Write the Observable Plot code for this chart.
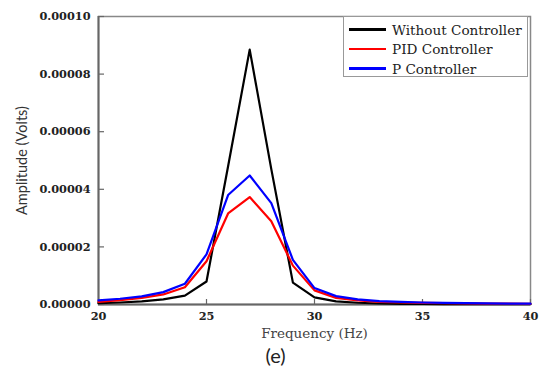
<!DOCTYPE html>
<html>
<head>
<meta charset="utf-8">
<script src="https://cdn.jsdelivr.net/npm/d3@7"></script>
<script src="https://cdn.jsdelivr.net/npm/@observablehq/plot@0.6"></script>
<style>
  html, body { margin: 0; padding: 0; background: #fff; }
  #wrap { position: relative; width: 543px; height: 372px; }
  #legend { position: absolute; left: 343px; top: 16px; width: 185px; height: 61px;
    border: 1px solid #999; background: #fff; box-sizing: border-box;
    font-family: "DejaVu Serif", serif; font-size: 13.6px; color: #222; }
  .row { position: absolute; left: 0; height: 18px; display: flex; align-items: center; white-space: nowrap; }
  .sw { width: 37px; height: 2.5px; margin-left: 5px; margin-right: 6px; }
</style>
</head>
<body>
<div id="wrap"></div>
<script>
const freq = [20,21,22,23,24,25,26,27,28,29,30,31,32,33,34,35,36,37,38,39,40];
const withoutCtrl = [0.45e-6,0.7e-6,1.1e-6,1.8e-6,3.1e-6,8.0e-6,48e-6,88.5e-6,47e-6,7.6e-6,2.5e-6,1.1e-6,0.6e-6,0.35e-6,0.25e-6,0.2e-6,0.15e-6,0.12e-6,0.1e-6,0.1e-6,0.08e-6];
const pidCtrl = [0.9e-6,1.5e-6,2.3e-6,3.5e-6,6.0e-6,15e-6,31.6e-6,37.3e-6,28.9e-6,13.5e-6,4.9e-6,2.3e-6,1.4e-6,0.9e-6,0.7e-6,0.55e-6,0.45e-6,0.38e-6,0.3e-6,0.27e-6,0.25e-6];
const pCtrl = [1.4e-6,2.0e-6,2.8e-6,4.3e-6,7.2e-6,17.4e-6,38e-6,44.8e-6,35.2e-6,15.5e-6,5.7e-6,2.9e-6,1.8e-6,1.2e-6,0.9e-6,0.7e-6,0.55e-6,0.45e-6,0.38e-6,0.33e-6,0.3e-6];
const seriesNames = ["Without Controller", "PID Controller", "P Controller"];
const seriesColors = ["#000000", "#ff0000", "#0000ff"];
const xTicks = [20, 25, 30, 35, 40];
const yTicks = [0, 0.00002, 0.00004, 0.00006, 0.00008, 0.0001];

const seriesValues = [withoutCtrl, pidCtrl, pCtrl];
const rows = [];
seriesNames.forEach((name, i) => freq.forEach((f, j) => rows.push({name, f, v: seriesValues[i][j]})));

const tickFont = {fontFamily: "DejaVu Serif", fontWeight: "bold", fontSize: 11.3, fill: "#222"};

const chart = Plot.plot({
  width: 543,
  height: 372,
  marginTop: 16,
  marginBottom: 68,
  marginLeft: 98,
  marginRight: 13,
  style: {background: "#fff", overflow: "visible"},
  x: {domain: [20, 40]},
  y: {domain: [0, 0.0001]},
  marks: [
    Plot.frame({stroke: "#888", strokeWidth: 1.5}),
    Plot.axisX({ticks: xTicks, tickSize: -5, tickPadding: 12, stroke: "#666", strokeWidth: 1.2, ...tickFont, label: null}),
    Plot.axisY({ticks: yTicks, tickSize: -6, tickPadding: 14, tickFormat: d3.format(".5f"), stroke: "#666", strokeWidth: 1.2, ...tickFont, label: null}),
    Plot.ruleY([0], {stroke: "#666", strokeWidth: 2}),
    Plot.ruleX([20], {stroke: "#666", strokeWidth: 2}),
    ...seriesNames.map((n, i) => Plot.line(rows.filter(d => d.name === n), {x: "f", y: "v", stroke: seriesColors[i], strokeWidth: 2.2})),
    Plot.text(["Frequency (Hz)"], {frameAnchor: "bottom", dy: 33, fontFamily: "DejaVu Serif", fontSize: 13.5, fill: "#444"}),
    Plot.text(["(e)"], {frameAnchor: "bottom", dx: -39, dy: 58, fontFamily: "Lato", fontSize: 20, fill: "#222"}),
    Plot.text(["Amplitude (Volts)"], {frameAnchor: "left", textAnchor: "middle", dx: -76, rotate: -90, fontFamily: "Lato", fontSize: 14.5, fill: "#333"})
  ]
});

const wrap = document.getElementById("wrap");
wrap.appendChild(chart);
const legend = document.createElement("div");
legend.id = "legend";
seriesNames.forEach((n, i) => {
  const r = document.createElement("div");
  r.className = "row";
  r.style.top = (3.5 + i * 19.5) + "px";
  const sw = document.createElement("div");
  sw.className = "sw";
  sw.style.background = seriesColors[i];
  const t = document.createElement("span");
  t.textContent = n;
  r.appendChild(sw); r.appendChild(t);
  legend.appendChild(r);
});
wrap.appendChild(legend);
</script>
</body>
</html>
